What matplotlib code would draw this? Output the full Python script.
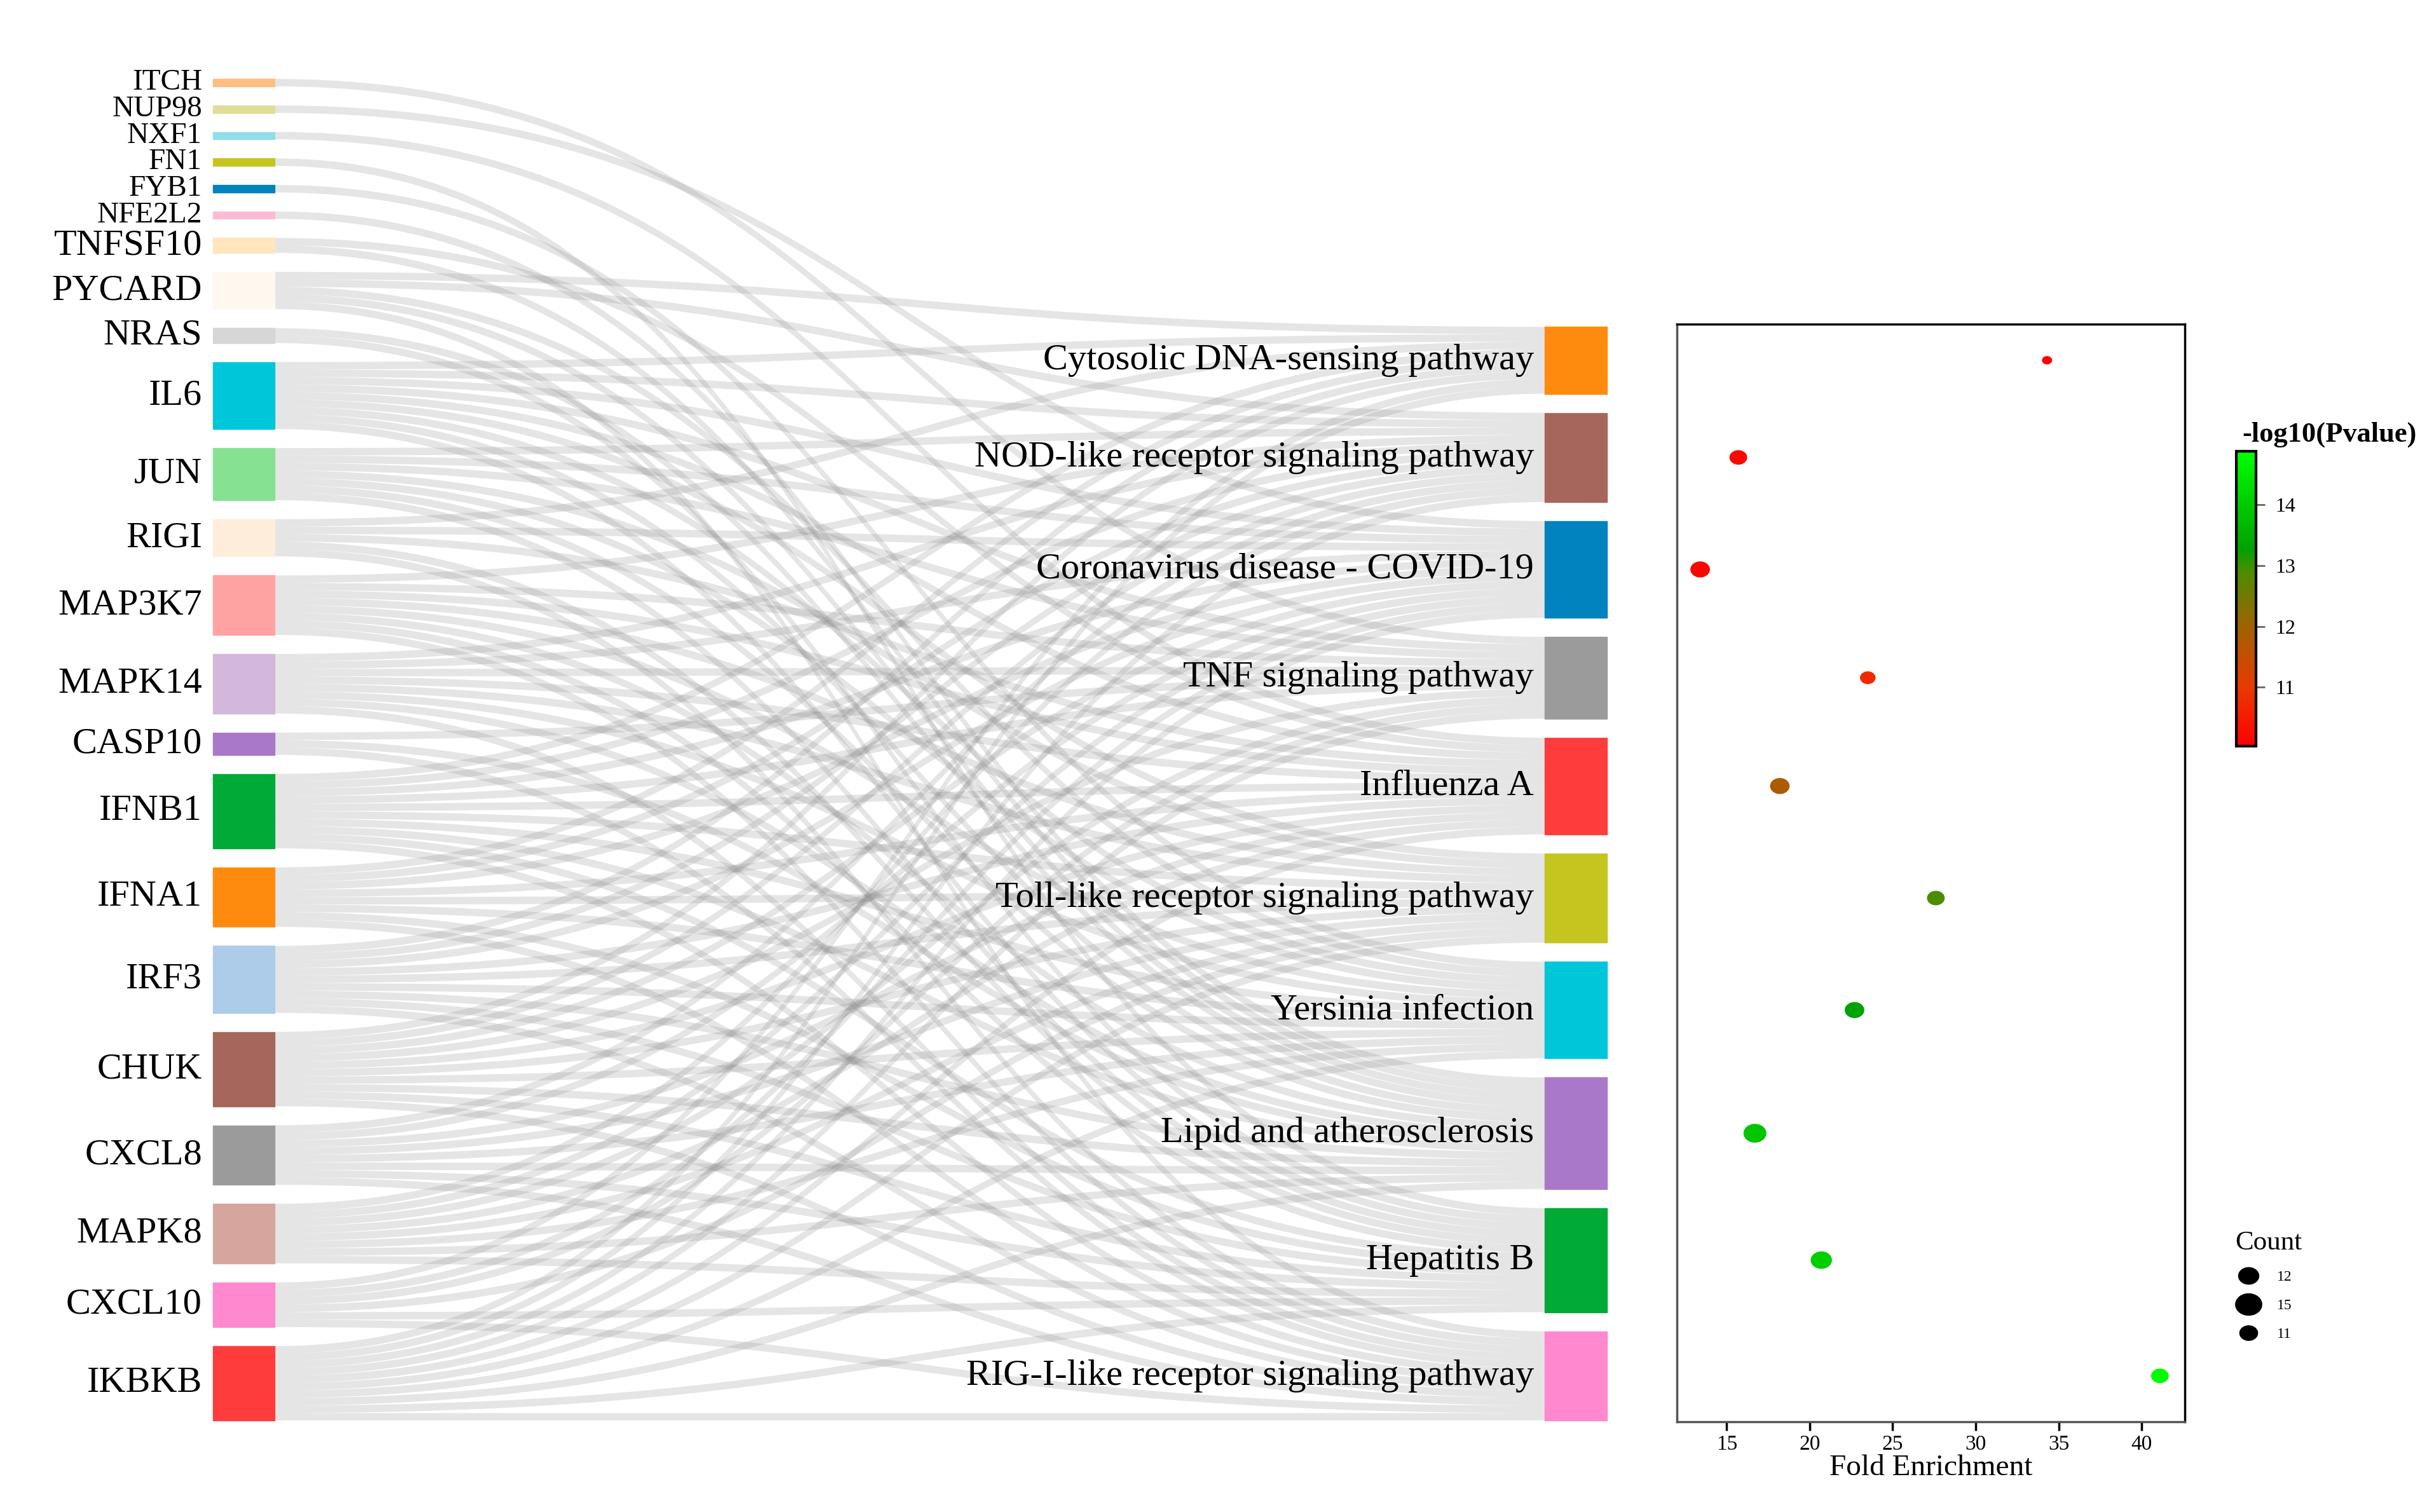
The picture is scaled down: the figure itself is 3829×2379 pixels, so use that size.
import matplotlib
matplotlib.use("Agg")
import matplotlib.pyplot as plt
import numpy as np
from matplotlib.path import Path
from matplotlib.patches import PathPatch, Rectangle
from matplotlib.colors import LinearSegmentedColormap, Normalize
from matplotlib.cm import ScalarMappable
from matplotlib.lines import Line2D

plt.rcParams['font.family'] = ['Liberation Serif', 'DejaVu Serif']

# genes (left column, top to bottom)
genes = ["ITCH", "NUP98", "NXF1", "FN1", "FYB1", "NFE2L2", "TNFSF10", "PYCARD",
         "NRAS", "IL6", "JUN", "RIGI", "MAP3K7", "MAPK14", "CASP10", "IFNB1",
         "IFNA1", "IRF3", "CHUK", "CXCL8", "MAPK8", "CXCL10", "IKBKB"]
gene_colors = ["#FFBF80", "#DEDE98", "#8EDFE9", "#C5C51F", "#0083BF", "#FDBAD4",
               "#FFE6BD", "#FFF8EF", "#D6D6D6", "#00C6D9", "#86E192", "#FFEDDC",
               "#FFA3A2", "#D3B8DB", "#A978C8", "#00AA36", "#FF8B0E", "#ADCCEA",
               "#A6665C", "#9B9B9B", "#D6A69E", "#FF88CF", "#FF3C3C"]

# pathways (right column, top to bottom)
pathways = ["Cytosolic DNA-sensing pathway", "NOD-like receptor signaling pathway",
            "Coronavirus disease - COVID-19", "TNF signaling pathway", "Influenza A",
            "Toll-like receptor signaling pathway", "Yersinia infection",
            "Lipid and atherosclerosis", "Hepatitis B", "RIG-I-like receptor signaling pathway"]
path_colors = ["#FF8B0E", "#A6665C", "#0083BF", "#9B9B9B", "#FF3C3C",
               "#C5C51F", "#00C6D9", "#A978C8", "#00AA36", "#FF88CF"]

members = [
    ["IL6", "RIGI", "IFNB1", "IFNA1", "IRF3", "CHUK", "CXCL10", "IKBKB", "PYCARD"],
    ["PYCARD", "IL6", "JUN", "MAP3K7", "MAPK14", "IFNB1", "IFNA1", "IRF3", "CHUK", "CXCL8", "MAPK8", "IKBKB"],
    ["NUP98", "IL6", "JUN", "RIGI", "MAPK14", "IFNB1", "IFNA1", "IRF3", "CHUK", "CXCL8", "MAPK8", "CXCL10", "IKBKB"],
    ["ITCH", "IL6", "JUN", "MAP3K7", "MAPK14", "CASP10", "IFNB1", "CHUK", "MAPK8", "CXCL10", "IKBKB"],
    ["NXF1", "TNFSF10", "IL6", "RIGI", "MAP3K7", "MAPK14", "IFNB1", "IFNA1", "IRF3", "CHUK", "CXCL8", "MAPK8", "IKBKB"],
    ["IL6", "JUN", "MAP3K7", "MAPK14", "IFNB1", "IFNA1", "IRF3", "CHUK", "CXCL8", "MAPK8", "CXCL10", "IKBKB"],
    ["FYB1", "PYCARD", "IL6", "JUN", "MAP3K7", "MAPK14", "IFNB1", "IFNA1", "IRF3", "CHUK", "CXCL8", "MAPK8", "IKBKB"],
    ["NFE2L2", "TNFSF10", "PYCARD", "NRAS", "IL6", "JUN", "MAP3K7", "MAPK14", "CASP10", "IFNB1", "IRF3", "CHUK", "CXCL8", "MAPK8", "IKBKB"],
    ["FN1", "NRAS", "IL6", "JUN", "RIGI", "MAP3K7", "IFNB1", "IFNA1", "IRF3", "CHUK", "CXCL8", "MAPK8", "CXCL10", "IKBKB"],
    ["PYCARD", "RIGI", "MAP3K7", "MAPK14", "CASP10", "IFNB1", "IFNA1", "IRF3", "CHUK", "CXCL8", "CXCL10", "IKBKB"],
]

fold_enrichment = [34.3, 15.7, 13.4, 23.5, 18.2, 27.6, 22.7, 16.7, 20.7, 41.1]
neg_log_p = [10.05, 10.2, 10.1, 10.75, 11.8, 12.9, 13.3, 13.9, 14.05, 14.85]
counts = [len(m) for m in members]
legend_counts = [12, 15, 11]

# ---- layout (figure pixels) ----
W, H = 3830, 2379
unit, gap, bottom = 11.7, 30, 2235
gx0, gx1 = 335, 432        # gene bars
px0, px1 = 2430, 2528      # pathway bars

fig = plt.figure(figsize=(W / 100, H / 100), dpi=100)
ax = fig.add_axes([0, 0, 1, 1])
ax.set_xlim(0, W)
ax.set_ylim(H, 0)
ax.axis('off')

gidx = {g: i for i, g in enumerate(genes)}
gene_links = [[p for p in range(len(pathways)) if g in members[p]] for g in genes]
gene_n = [len(l) for l in gene_links]

def stack(sizes):
    total = sum(sizes) * unit + (len(sizes) - 1) * gap
    tops, y = [], bottom - total
    for s in sizes:
        tops.append(y)
        y += s * unit + gap
    return tops

gene_top = stack(gene_n)
path_top = stack(counts)
path_center = [t + c * unit / 2 for t, c in zip(path_top, counts)]

# links
xm = (gx1 + px0) / 2
for gi, g in enumerate(genes):
    for k, p in enumerate(gene_links[gi]):
        ya0 = gene_top[gi] + k * unit
        ya1 = ya0 + unit
        order = sorted(members[p], key=lambda n: gidx[n])
        j = order.index(g)
        yb0 = path_top[p] + j * unit
        yb1 = yb0 + unit
        verts = [(gx1, ya0), (xm, ya0), (xm, yb0), (px0, yb0), (px0, yb1),
                 (xm, yb1), (xm, ya1), (gx1, ya1), (gx1, ya0)]
        codes = [Path.MOVETO, Path.CURVE4, Path.CURVE4, Path.CURVE4, Path.LINETO,
                 Path.CURVE4, Path.CURVE4, Path.CURVE4, Path.CLOSEPOLY]
        ax.add_patch(PathPatch(Path(verts, codes), facecolor='#8a8a8a', alpha=0.22,
                               edgecolor='none', zorder=1))

# nodes + labels
for gi, g in enumerate(genes):
    h = gene_n[gi] * unit
    ax.add_patch(Rectangle((gx0, gene_top[gi]), gx1 - gx0, h, color=gene_colors[gi], zorder=2))
    fs = 34 if gene_n[gi] == 1 else 42
    ax.text(318, gene_top[gi] + h / 2, g, ha='right', va='center', fontsize=fs, zorder=3)
for p, name in enumerate(pathways):
    h = counts[p] * unit
    ax.add_patch(Rectangle((px0, path_top[p]), px1 - px0, h, color=path_colors[p], zorder=2))
    ax.text(2413, path_center[p], name, ha='right', va='center', fontsize=42, zorder=3)

# ---- dot plot ----
dx0, dx1, dy0, dy1 = 2638, 3437, 510, 2237
axd = fig.add_axes([dx0 / W, 1 - dy1 / H, (dx1 - dx0) / W, (dy1 - dy0) / H])
axd.set_xlim(12, 42.6)
axd.set_ylim(dy1, dy0)

cmap = LinearSegmentedColormap.from_list("rg", [
    (0.0, "#FF0000"), (0.20, "#E83A00"), (0.41, "#9C6400"), (0.59, "#4E8C00"),
    (0.67, "#00A200"), (0.81, "#00C800"), (1.0, "#00FF00")])
norm = Normalize(10.03, 14.88)

def diam(c):
    return np.sqrt(256 + 173 * (np.asarray(c) - 9))

theta = np.linspace(0, 2 * np.pi, 64)
ellipse = Path(np.column_stack([np.cos(theta), 0.82 * np.sin(theta)]), closed=True)

axd.scatter(fold_enrichment, path_center, s=(diam(counts) * 0.72) ** 2, c=neg_log_p,
            cmap=cmap, norm=norm, marker=ellipse, linewidths=0, zorder=3)
axd.set_yticks([])
axd.set_xticks([15, 20, 25, 30, 35, 40])
axd.tick_params(axis='x', labelsize=24, length=10, width=2.5, pad=5)
axd.set_xlabel("Fold Enrichment", fontsize=34, labelpad=0)
for side in ['top', 'right']:
    axd.spines[side].set_color('black')
for side in ['left', 'bottom']:
    axd.spines[side].set_color('#555555')
for s in axd.spines.values():
    s.set_linewidth(2.5)

# colorbar
cax = fig.add_axes([3518 / W, 1 - 1174 / H, 31 / W, 464 / H])
cb = fig.colorbar(ScalarMappable(norm=norm, cmap=cmap), cax=cax)
cb.set_ticks([11, 12, 13, 14])
cb.outline.set_linewidth(3)
cax.tick_params(labelsize=23, length=10, width=2, color='#666666', pad=12)
fig.text(3665 / W, 1 - 684 / H, "-log10(Pvalue)", ha='center', va='center',
         fontsize=32, fontweight='bold')

# size legend
handles = [Line2D([], [], linestyle='none', marker=ellipse, color='black',
                  markersize=diam(c) * 0.72 * 1.15) for c in legend_counts]
fig.legend(handles, [str(c) for c in legend_counts], title="Count", loc='upper left',
           bbox_to_anchor=(3495 / W, 1 - 1915 / H), frameon=False, fontsize=17,
           title_fontsize=31, alignment='left', labelspacing=1.0,
           handlelength=1.8, handletextpad=1.0)

fig.savefig("out.png", dpi=100)
